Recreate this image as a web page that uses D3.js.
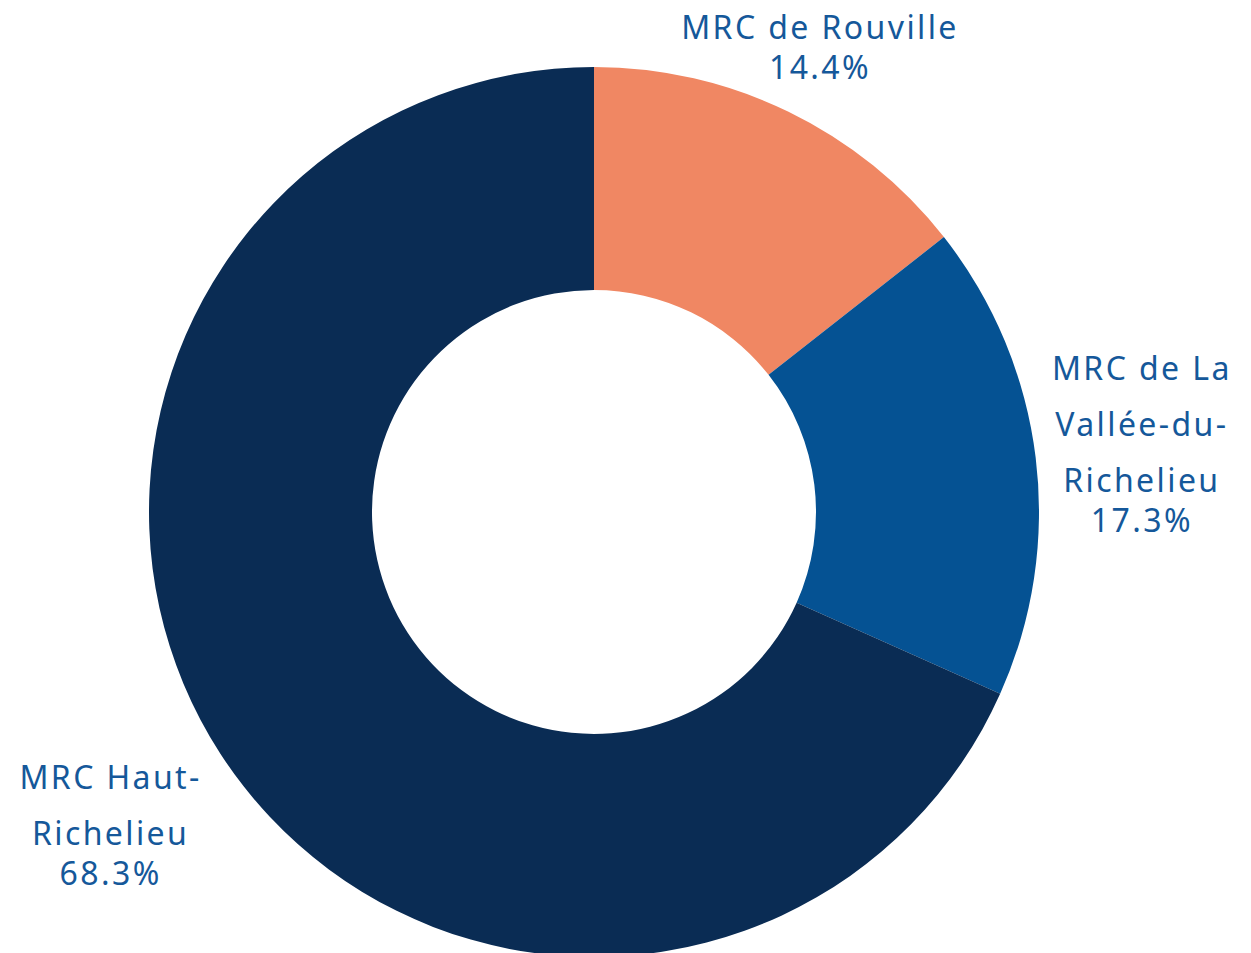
<!DOCTYPE html>
<html lang="fr">
<head>
    <meta charset="UTF-8">
    <title>Répartition par MRC</title>
    <script src="https://d3js.org/d3.v7.min.js"></script>
    <style>
        body { margin: 0; background: #fff; }
        svg { display: block; }
        .label { font-family: "Noto Sans", sans-serif; fill: #15589a; letter-spacing: 2.4px; }
    </style>
</head>
<body>
<div id="chart"></div>
<script>
    // data
    const categories = ["MRC de Rouville", "MRC de La|Vallée-du-|Richelieu", "MRC Haut-|Richelieu"];
    const shares = [14.4, 17.3, 68.3];
    const colors = ["#f08763", "#055293", "#0a2c54"];

    const W = 1251, H = 953;
    const cx = 594, cy = 512;
    const outerR = 445, innerR = 222;
    const fontSize = 32, nameStep = 56, pctStep = 40, gap = 22;

    const svg = d3.select("#chart").append("svg")
        .attr("width", W)
        .attr("height", H);

    const g = svg.append("g").attr("transform", `translate(${cx},${cy})`);

    const data = categories.map((c, i) => ({name: c, value: shares[i], color: colors[i]}));

    const pie = d3.pie().sort(null).value(d => d.value);
    const arc = d3.arc().innerRadius(innerR).outerRadius(outerR);
    const arcs = pie(data);

    g.selectAll("path.slice")
        .data(arcs)
        .enter()
        .append("path")
        .attr("class", "slice")
        .attr("d", arc)
        .attr("fill", d => d.data.color);

    // outside labels: pushed along the mid angle until clear of the ring
    arcs.forEach(a => {
        const lines = a.data.name.split("|");
        const mid = (a.startAngle + a.endAngle) / 2;
        const dir = [Math.sin(mid), -Math.cos(mid)];

        const txt = g.append("text")
            .attr("class", "label")
            .attr("text-anchor", "middle")
            .style("font-size", fontSize + "px");

        const baselines = [];
        let b = 0;
        lines.forEach((l, i) => {
            baselines.push(b);
            b += (i < lines.length - 1) ? nameStep : pctStep;
        });
        baselines.push(b);
        const all = lines.concat([d3.format(".1f")(a.data.value) + "%"]);

        const spans = all.map((s, i) => txt.append("tspan")
            .attr("x", 0)
            .attr("y", baselines[i])
            .text(s));
        const widths = spans.map(s => s.node().getComputedTextLength());

        const capH = fontSize * 0.72;
        const top = -capH, bottom = baselines[baselines.length - 1];
        const midY = (top + bottom) / 2;

        const clearance = (px, py) => d3.min(all, (s, i) => {
            const x0 = px - widths[i] / 2, x1 = px + widths[i] / 2;
            const y1 = py + baselines[i] - midY, y0 = y1 - capH;
            const nx = Math.max(x0, Math.min(0, x1));
            const ny = Math.max(y0, Math.min(0, y1));
            return Math.hypot(nx, ny);
        });

        let t = outerR;
        while (clearance(t * dir[0], t * dir[1]) < outerR + gap && t < 900) t += 1;
        const px = t * dir[0], py = t * dir[1];

        txt.attr("transform", `translate(${px},${py - midY})`);
    });
</script>
</body>
</html>
